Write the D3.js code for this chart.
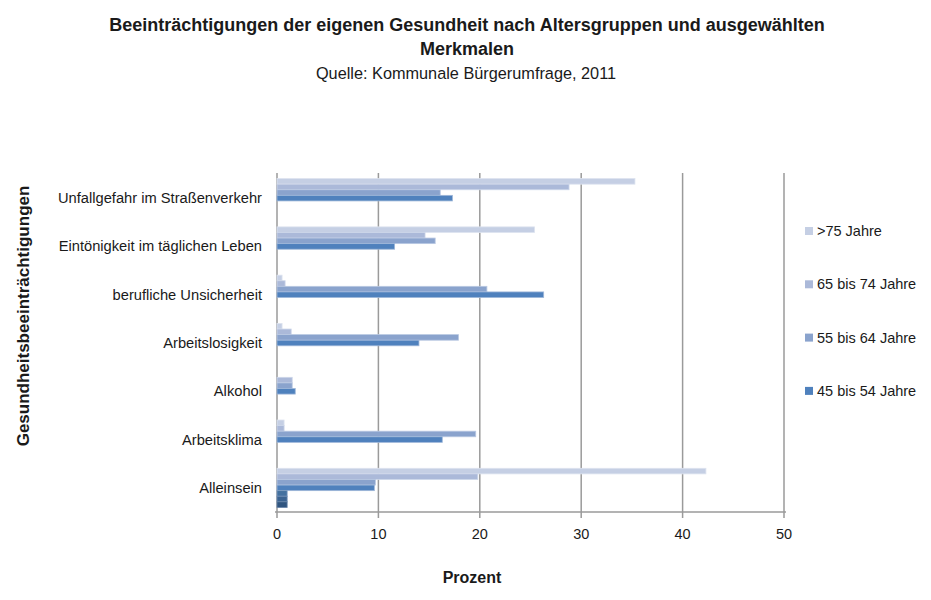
<!DOCTYPE html>
<html>
<head>
<meta charset="utf-8">
<script src="https://cdn.jsdelivr.net/npm/d3@7"></script>
<style>
  body { margin: 0; background: #fff; }
  text { font-family: "Liberation Sans", Arial, sans-serif; fill: #1a1a1a; }
</style>
</head>
<body>
<div id="chart"></div>
<script>
var categories = ["Unfallgefahr im Straßenverkehr", "Eintönigkeit im täglichen Leben", "berufliche Unsicherheit",
                  "Arbeitslosigkeit", "Alkohol", "Arbeitsklima", "Alleinsein"];
var seriesNames = [">75 Jahre", "65 bis 74 Jahre", "55 bis 64 Jahre", "45 bis 54 Jahre",
                   "35 bis 44 Jahre", "25 bis 34 Jahre", "18 bis 24 Jahre"];
var over75   = [35.3, 25.4, 0.5, 0.5, 0, 0.7, 42.3];
var age65_74 = [28.8, 14.6, 0.8, 1.4, 1.5, 0.7, 19.8];
var age55_64 = [16.1, 15.6, 20.7, 17.9, 1.5, 19.6, 9.7];
var age45_54 = [17.3, 11.6, 26.3, 14.0, 1.8, 16.3, 9.6];
var age35_44 = [0, 0, 0, 0, 0, 0, 1.0];
var age25_34 = [0, 0, 0, 0, 0, 0, 1.0];
var age18_24 = [0, 0, 0, 0, 0, 0, 1.0];
var xTicks = [0, 10, 20, 30, 40, 50];
var legendCount = 4;   // only the first four series show in the legend

var colors = ["#c5cfe4", "#abb9d9", "#8aa3cd", "#4f81bd", "#44719f", "#3b6391", "#30557f"];
var strokes = ["#dde3ef", "#cdd6e9", "#b9c8e2", "#9fb7d9", "#7e9cc0", "#6f8db3", "#6481a6"];
var values = [over75, age65_74, age55_64, age45_54, age35_44, age25_34, age18_24];

var width = 931, height = 600;
var margin = {left: 277, right: 147, top: 174, bottom: 88};

var svg = d3.select("#chart").append("svg")
  .attr("width", width)
  .attr("height", height);

var x = d3.scaleLinear().domain([0, 50]).range([margin.left, width - margin.right]);
var y = d3.scaleBand().domain(categories).range([margin.top, height - margin.bottom]).paddingInner(0.19).paddingOuter(0.095);
var ySub = d3.scaleBand().domain(d3.range(seriesNames.length)).range([0, y.bandwidth()]);

// gridlines
svg.append("g").selectAll("line")
  .data(xTicks)
  .enter().append("line")
  .attr("x1", function(d) { return x(d); })
  .attr("x2", function(d) { return x(d); })
  .attr("y1", margin.top - 1)
  .attr("y2", height - margin.bottom + 6)
  .attr("stroke", "#9a9a9a")
  .attr("stroke-width", 1.5);

// bars
var groups = svg.append("g").selectAll("g")
  .data(categories)
  .enter().append("g")
  .attr("transform", function(d) { return "translate(0," + y(d) + ")"; });

groups.selectAll("rect")
  .data(function(d, i) {
    return values.map(function(v, s) { return {s: s, v: v[i]}; });
  })
  .enter().append("rect")
  .filter(function(d) { return d.v > 0; })
  .attr("x", x(0))
  .attr("y", function(d) { return ySub(d.s); })
  .attr("width", function(d) { return x(d.v) - x(0); })
  .attr("height", ySub.bandwidth())
  .attr("fill", function(d) { return colors[d.s]; })
  .attr("stroke", function(d) { return strokes[d.s]; })
  .attr("stroke-width", 0.8);

// x axis
svg.append("line")
  .attr("x1", x(0) - 2).attr("x2", x(50) + 2)
  .attr("y1", height - margin.bottom).attr("y2", height - margin.bottom)
  .attr("stroke", "#9a9a9a").attr("stroke-width", 1.5);

svg.append("g").selectAll("text")
  .data(xTicks)
  .enter().append("text")
  .attr("x", function(d) { return x(d); })
  .attr("y", height - margin.bottom + 27)
  .attr("text-anchor", "middle")
  .attr("font-size", "14.5px")
  .text(function(d) { return d; });

// category labels
svg.append("g").selectAll("text")
  .data(categories)
  .enter().append("text")
  .attr("x", margin.left - 15)
  .attr("y", function(d) { return y(d) + y.bandwidth() / 2 + 5; })
  .attr("text-anchor", "end")
  .attr("font-size", "14.7px")
  .text(function(d) { return d; });

// legend
var legend = svg.append("g").selectAll("g")
  .data(seriesNames.slice(0, legendCount))
  .enter().append("g")
  .attr("transform", function(d, i) { return "translate(805," + (236 + i * 53.3) + ")"; });
legend.append("rect")
  .attr("x", 0).attr("y", -9)
  .attr("width", 8).attr("height", 8)
  .attr("fill", function(d, i) { return colors[i]; });
legend.append("text")
  .attr("x", 12).attr("y", 0)
  .attr("font-size", "14.5px")
  .text(function(d) { return d; });

// titles
svg.append("text")
  .attr("x", 467).attr("y", 31)
  .attr("text-anchor", "middle")
  .attr("font-size", "18px").attr("font-weight", "bold")
  .text("Beeinträchtigungen der eigenen Gesundheit nach Altersgruppen und ausgewählten");
svg.append("text")
  .attr("x", 467).attr("y", 55)
  .attr("text-anchor", "middle")
  .attr("font-size", "18px").attr("font-weight", "bold")
  .text("Merkmalen");
svg.append("text")
  .attr("x", 466).attr("y", 79)
  .attr("text-anchor", "middle")
  .attr("font-size", "16.3px")
  .text("Quelle: Kommunale Bürgerumfrage, 2011");

svg.append("text")
  .attr("x", 472).attr("y", 583)
  .attr("text-anchor", "middle")
  .attr("font-size", "16px").attr("font-weight", "bold")
  .text("Prozent");

svg.append("text")
  .attr("transform", "translate(29,316) rotate(-90)")
  .attr("text-anchor", "middle")
  .attr("font-size", "17px").attr("font-weight", "bold")
  .text("Gesundheitsbeeinträchtigungen");
</script>
</body>
</html>
